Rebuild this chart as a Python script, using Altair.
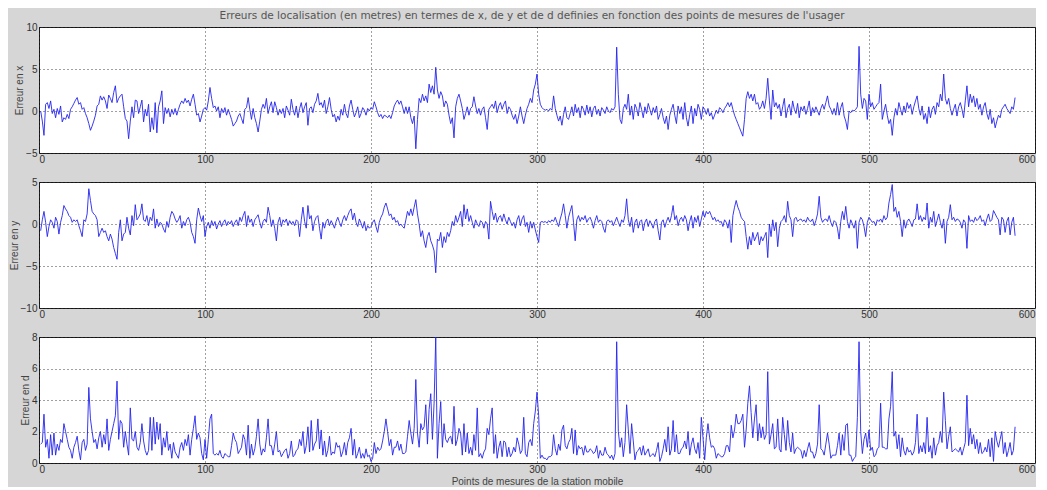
import altair as alt
import pandas as pd

TITLE = "Erreurs de localisation (en metres) en termes de x, de y et de d definies en fonction des points de mesures de l'usager"
X_TITLE = "Points de mesures de la station mobile"
Y_TITLES = ["Erreur en x", "Erreur en y", "Erreur en d"]
X_TICKS = [0, 100, 200, 300, 400, 500, 600]

EX = [
    0, -1.2, -2.9, 0.8, 1.0, 0.3, 1.2, -0.3, 0.2, -0.8,
    0.3, -0.4, 0.6, -1.3, -0.8, -1.0, -0.4, -0.9, 0.2, 0.5,
    0.9, 1.3, 1.6, 0.8, 1.0, 0.2, 0.4, -0.3, -0.8, -1.5,
    -2.3, -1.8, -1.2, -0.5, 0.6, 0.8, 1.8, 1.3, 1.7, 1.2,
    0.3, 1.9, 1.5, 1.0, 2.2, 3.0, 1.0, 1.5, 1.8, 2.0,
    0.5, -0.9, -1.2, -3.3, -1.2, 0.5, -0.8, 1.3, 1.2, -0.3,
    0.5, 1.3, -1.3, 0.2, -0.6, 0.8, -2.5, -0.8, -2.2, 1.0,
    -2.6, 0.5, 1.2, 2.4, -1.5, 0.4, -0.3, 0.3, -0.7, 0.2,
    -0.4, 0.3, -0.5, 0.2, 0.8, 1.2, 0.9, 1.5, 1.0, 1.3,
    0.6, 1.4, 2.0, 0.8, -0.5, -0.3, -1.3, -0.6, 0.2, 0.4,
    0.1, 1.2, 2.8, 1.5, 0.4, 0.6, 0.0, 0.5, -0.8, 0.3,
    -0.2, 0.4, -0.5, 0.2, -0.4, -1.0, -1.8, -1.5, -1.2, -0.6,
    -0.3, -0.9, -1.5, 0.2, 0.4, 1.6, 0.2, -1.0, 0.3, -0.8,
    -1.5, -2.5, -1.2, 0.2, 0.8, 0.3, 1.5, -0.3, 0.5, 1.1,
    -0.2, 1.1, 0.4, -0.5, 0.2, -0.3, 0.3, -0.8, 0.6, 0.1,
    -0.5, 1.4, 0.2, -0.5, 0.6, -0.8, 0.3, 1.0, -0.2, 0.5,
    1.0, -1.7, 0.3, 0.5, -0.2, 0.8, 1.2, 2.1, 0.7, 1.0,
    0.4, 1.3, -0.3, 0.5, 1.6, 0.2, -0.7, -0.4, -1.3, -0.6,
    -1.1, 0.2, -0.5, 0.8, -0.3, -0.8, 0.6, 1.3, 0.2, -0.7,
    -0.2, 0.5, -0.8, -0.3, 0.4, 0.1, -0.5, 0.3, 0.0, 0.4,
    0.2, 1.1, 0.5, -0.2, -0.7, -0.4, -0.9, -0.5, -0.6, -0.8,
    -0.5, -0.9, -0.2, 0.6, 1.0, 1.3, 0.8, 1.2, 0.5, -0.3,
    0.5, -0.3, 0.5, -0.8, -1.5, -0.6, -4.5, -1.0, 1.5, 1.0,
    2.0, 1.2, 1.8, 1.0, 3.2, 2.2, 3.0, 2.0, 5.2, 2.5,
    1.5, 2.3, 1.8, 0.5, 1.2, 0.8, -0.5, -1.5, -0.8, -3.2,
    0.5, 1.5, 2.0, 1.2, 0.3, -1.0, -0.3, 0.5, -0.5, 0.3,
    0.5, 1.7, 0.6, -0.3, 0.3, -0.5, 0.2, 0.5, -0.8, -2.2,
    0.2, 0.5, 0.8, 0.3, 1.2, -0.2, 0.6, 1.0, 0.2, 0.8,
    1.2, -0.3, 0.5, 0.2, -0.5, -1.0, -0.4, -1.5, -0.6, 0.5,
    -0.6, -1.5, -0.5, 0.3, 0.8, 1.5, 1.0, 2.5, 3.2, 4.4,
    2.0, 0.8, 0.4, 0.2, 0.1, 0.2, 0.0, 0.3, 0.1, 1.8,
    0.3, -0.5, -1.2, -0.6, -1.7, -0.4, 0.5, -0.8, -1.0, -0.3,
    0.5, -0.6, 0.8, -0.2, 0.4, -0.8, 0.6, 0.2, -0.5, 0.7,
    -0.3, 0.5, -0.7, 0.3, 0.6, -0.4, 0.2, -0.6, 0.4, 0.1,
    -0.3, 0.5, 0.0, -0.2, 0.3, 0.1, 0.5, 7.6, 2.0, -1.0,
    -1.5, 0.3, 0.8, 0.2, 2.0, -0.5, 0.6, -1.0, 0.8, 0.3,
    -0.6, 1.0, 0.2, -0.8, 0.5, -0.3, 0.9, 0.2, -0.5, 0.4,
    -0.2, 0.6, -1.0, -0.4, 0.3, -0.8, -1.5, -0.6, -2.2, -0.5,
    0.2, 0.8, -0.5, -1.5, 0.6, -0.3, 0.5, -1.0, 1.0, -0.8,
    -1.8, -0.4, 0.6, -1.5, 0.3, -0.6, 0.8, 0.2, -1.0, 0.5,
    0.2, -0.4, 0.3, -0.6, -0.2, -1.0, -0.5, 0.1, -0.3, 0.4,
    0.2, -0.2, 0.3, 0.6, 1.0, 0.5, 1.0, 0.2, -0.5, -1.0,
    -1.5, -2.0, -2.5, -3.0, -1.0, 1.5, 2.3, 1.5, 2.0, 1.2,
    2.0, 0.8, 1.0, 0.2, 0.5, 1.2, 0.3, 1.5, 3.9, 1.2,
    -1.0, 2.5, 0.5, 1.0, 0.3, 0.8, -0.6, 0.5, 1.5, -0.8,
    0.3, 0.8, -0.5, 1.2, 0.2, -0.3, 0.9, -0.8, 0.5, 0.0,
    0.6, -0.4, 0.3, 1.2, -0.6, 0.4, -0.2, 0.5, 0.0, -0.5,
    0.3, 0.8, 0.2, 1.0, 1.8, 0.6, 0.2, -0.4, 0.3, -0.5,
    1.0, -0.5, 0.4, 1.0, -0.6, -1.2, -2.2, 0.0, -0.2, 0.1,
    0.0, 0.2, 0.5, 7.7, 2.0, 0.3, 1.5, 1.2, -1.0, 2.0,
    0.5, 1.0, 0.2, 0.5, 0.8, 1.0, 3.2, -1.0, 0.0, 0.8,
    -0.5, -1.5, -1.0, -2.9, -0.8, 0.3, -0.5, 1.0, 0.2, -0.5,
    0.6, -0.2, 1.0, 0.3, 0.8, -0.4, 0.5, 1.2, 1.8, 0.3,
    -0.5, 0.6, -1.0, -0.3, -1.5, 0.5, -0.8, 0.2, 0.6, -0.4,
    1.0, 0.5, 2.0, 1.2, 4.4, 1.5, 0.8, 1.5, 0.3, -0.5,
    0.2, 0.8, -0.6, 0.5, 1.0, 0.2, -0.8, 1.2, 3.0, 0.5,
    2.0, 1.0, 1.8, 0.5, 1.5, 0.2, 0.8, -0.5, 0.5, 1.0,
    -0.3, -1.0, 0.2, -1.5, -0.8, -2.0, -1.2, -0.5, -0.8, 0.2,
    0.5, 0.8, 0.3, 0.0, -0.3, 0.5, 0.2, 1.6,
]

EY = [
    -0.8, 0.5, 1.5, 0.2, -1.5, -0.3, 0.5, 0.2, -0.5, 0.8,
    0.3, -1.2, 0.2, 1.0, 2.2, 1.8, 1.5, 1.0, 0.8, 0.2,
    0.5, 0.3, 0.5, -0.2, -0.8, -1.5, 0.5, 0.3, 1.2, 4.2,
    2.8, 1.5, 1.2, 1.0, 0.5, -1.5, -1.0, -0.5, -1.0, -0.8,
    -1.5, -2.0, -1.2, -1.8, -2.8, -3.5, -4.2, -1.0, 0.5, -2.0,
    -1.2, -1.0, 0.8, -0.5, -1.3, 1.0, -0.2, 2.3, 0.5, 0.8,
    1.2, 2.4, 0.5, 0.3, 1.0, -0.2, 0.8, 0.4, 1.8, -0.5,
    0.6, -0.3, 0.2, 0.0, -0.6, -1.0, 0.3, -0.4, 0.8, 1.5,
    1.2, 0.6, 0.2, 0.5, 1.0, -0.5, 0.3, -0.2, 0.5, 0.8,
    0.2, -1.0, -1.5, -2.3, 0.5, 1.9, 1.0, 0.3, 1.0, -1.5,
    -0.3, 0.2, -0.5, 0.4, -0.2, 0.3, -0.6, 0.0, 0.4, -0.3,
    0.2, 0.5, -0.2, 0.3, 0.0, 0.4, -0.3, 0.2, 0.5, -0.2,
    0.8, 0.3, 1.0, 1.5, -0.3, 1.0, 0.2, 0.6, -0.3, 0.5,
    0.8, 1.1, 0.2, -0.5, 0.3, 0.6, 0.2, 2.0, 1.0, -0.3,
    0.5, -0.5, -2.0, 0.2, 0.8, -0.3, 0.5, 0.2, 0.6, -0.2,
    0.4, 0.0, 0.3, -0.2, 0.5, 0.3, -1.5, 0.5, 2.0, 0.3,
    -0.5, 2.2, 0.6, 1.0, -0.8, 0.3, 0.8, 1.0, -0.5, -1.8,
    0.2, -0.5, 0.3, 0.6, -0.2, 0.4, 0.0, -0.5, 0.3, 0.8,
    0.2, -0.3, 0.5, 1.0, 0.4, 1.0, 1.5, 1.8, 0.5, 1.3,
    0.2, -0.3, 0.6, 0.1, -0.5, 0.3, -0.8, -0.2, -0.5, -0.3,
    0.2, 0.5, -0.3, -1.0, 0.2, 0.8, 1.2, 2.0, 2.5, 1.8,
    1.0, 1.2, 0.5, 0.8, 0.2, 0.4, -0.2, 0.0, -0.3, -0.5,
    0.5, 1.5, 1.0, 1.8, 1.0, 2.0, 2.9, 1.2, 0.0, -1.5,
    -0.8, -2.0, -2.8, -1.5, -1.0, -2.0, -2.5, -3.2, -5.8, -1.8,
    -2.0, -1.0, -2.8, -1.5, -2.2, -1.0, -1.5, -0.8, 0.3, -0.2,
    1.0, 0.2, 0.8, 1.5, -0.3, 2.3, 0.6, 1.8, 0.3, 1.0,
    0.2, -0.5, 0.5, 0.0, -0.3, 0.4, 0.2, -0.5, 0.3, 0.0,
    -1.8, 2.7, 1.5, 0.5, 1.3, 0.2, 0.8, 1.0, 0.3, 1.2,
    0.5, 0.0, 0.8, 0.3, -0.2, 0.2, -0.5, 0.5, 1.0, -0.2,
    0.6, 1.0, -0.3, 0.2, -1.0, 0.3, -0.5, 0.2, -0.7, -1.5,
    -2.2, 0.2, 0.3, 0.2, 0.3, 0.1, 0.4, 0.2, 0.5, 0.3,
    0.8, 0.2, -0.3, 0.6, 1.3, 2.4, 1.0, -0.5, 0.8, 1.5,
    2.2, 0.2, -2.0, 0.5, 1.0, 0.3, 0.8, 0.5, 1.0, 0.2,
    0.6, 0.8, 0.3, -0.5, 0.4, 1.0, 0.2, 0.5, 0.3, -0.5,
    -1.0, 0.3, 0.5, 0.2, 0.4, -0.2, 0.3, 0.8, 0.2, -0.3,
    0.5, 0.2, 1.0, 3.0, 0.5, -0.3, 0.8, -1.0, 0.2, 0.6,
    -0.5, 0.3, 0.5, -0.8, 0.2, 0.6, -0.3, 0.4, 0.0, -0.5,
    0.3, 0.6, -0.8, -1.9, 0.2, 0.5, -0.4, 0.3, 0.8, 0.2,
    1.0, 2.2, 0.5, 1.0, -0.2, 0.5, 0.8, 0.3, 1.0, 0.5,
    -0.8, 0.3, 1.0, -0.5, 0.8, 0.2, 1.0, -0.3, 0.6, 1.5,
    0.8, 1.5, 1.2, 1.5, 1.0, 0.5, 0.8, 0.3, 0.5, 0.2,
    0.3, -0.3, 0.5, 0.2, -0.5, 0.5, -2.2, 1.0, 2.0, 2.8,
    2.0, 1.5, 0.8, 0.5, 0.3, -1.5, -3.0, -1.5, -2.5, -1.0,
    -2.0, -1.5, -1.0, -2.5, -1.5, -2.0, -1.5, -1.0, -4.0, 0.0,
    -1.5, 0.5, -0.8, 0.2, -2.7, -0.5, 0.3, 0.5, 1.0, 0.2,
    2.7, 1.0, 0.5, -1.5, 0.6, 0.8, 0.3, 0.5, 0.6, 0.3,
    0.5, 0.2, 0.8, 0.4, 0.3, 0.6, -0.2, 0.4, 1.2, 3.3,
    0.8, 0.2, 0.5, 0.6, 0.3, 1.0, 0.2, -0.3, 0.4, 0.2,
    -0.5, -1.8, 0.3, 1.5, 0.5, 2.1, 0.3, -0.5, 0.5, 0.0,
    -0.5, 0.4, -2.9, 0.2, 0.8, 0.5, -0.3, -1.5, 0.2, 0.8,
    0.5, 0.2, 0.3, -0.2, 0.5, 0.3, 0.6, 0.2, 1.0, 0.5,
    0.8, 2.5, 3.5, 4.7, 1.5, 2.0, 0.8, 1.5, 0.3, -1.5,
    0.5, -0.5, 0.3, 0.6, 0.2, -0.3, 0.5, 0.6, 2.4, 0.5,
    1.0, 0.3, 0.8, 0.5, 2.5, -0.5, 0.8, 0.2, 1.5, -0.3,
    0.4, 1.2, 0.2, -0.5, 0.6, -2.3, 0.3, 0.8, 2.3, 0.5,
    0.8, 0.3, 0.6, 0.5, 0.2, -0.5, 0.5, 0.2, -2.9, 1.0,
    0.3, 0.5, 0.2, 0.8, 0.4, 0.6, 1.0, 0.3, 0.5, -0.2,
    0.6, 1.2, 0.3, 0.5, 1.6, 1.2, 0.8, 0.5, -1.3, 0.8,
    0.5, -1.0, 0.3, 0.8, -1.3, 0.2, 0.8, -1.4,
]

ED = [
    1.2, 1.3, 3.1, 1.0, 1.5, 0.3, 1.8, 0.5, 1.9, 0.5,
    1.2, 0.8, 1.5, 1.3, 2.5, 2.0, 1.5, 1.0, 0.8, 0.3,
    1.0, 1.3, 1.7, 0.8, 0.2, 1.3, 1.5, 0.8, 1.2, 4.8,
    2.8, 2.0, 1.3, 1.5, 0.9, 1.6, 2.0, 1.0, 1.8, 1.2,
    2.8, 0.8, 1.5, 2.0, 2.5, 3.0, 5.2, 1.5, 2.7, 2.5,
    1.0, 2.0, 1.2, 0.5, 3.5, 1.5, 1.4, 2.0, 1.0, 0.8,
    1.3, 2.5, 1.4, 0.8, 0.5, 0.8, 2.9, 0.8, 2.9, 1.2,
    2.6, 1.5, 2.5, 0.5, 1.6, 1.0, 2.0, 0.8, 1.2, 0.3,
    1.3, 0.7, 0.5, 0.3, 1.0, 1.3, 0.8, 1.5, 1.1, 1.8,
    0.5, 1.5, 2.2, 3.0, 1.5, 1.9, 1.6, 0.6, 0.2, 1.5,
    0.3, 1.5, 2.8, 3.1, 0.6, 0.5, 0.6, 0.5, 0.8, 0.4,
    0.3, 0.6, 0.5, 0.4, 0.4, 1.1, 1.9, 1.5, 1.3, 0.6,
    0.8, 1.0, 1.8, 1.5, 0.5, 2.4, 0.3, 1.2, 0.5, 0.9,
    1.7, 2.8, 1.2, 0.5, 0.9, 0.7, 1.6, 2.8, 1.1, 1.1,
    0.5, 1.2, 2.0, 0.7, 0.8, 0.4, 0.6, 0.8, 0.9, 0.3,
    0.6, 1.4, 0.4, 0.5, 0.8, 0.9, 1.5, 1.1, 2.0, 0.6,
    1.1, 2.3, 0.7, 2.7, 0.8, 1.2, 1.4, 2.8, 0.9, 2.1,
    0.5, 1.4, 0.4, 0.8, 1.7, 0.5, 0.7, 0.6, 1.3, 1.0,
    1.1, 0.4, 0.7, 1.3, 0.5, 1.3, 1.6, 2.2, 0.5, 1.5,
    0.3, 0.6, 1.0, 0.3, 0.6, 0.3, 0.9, 0.4, 0.5, 0.1,
    0.3, 1.3, 0.6, 1.0, 0.8, 0.9, 1.4, 2.0, 2.8, 2.0,
    1.1, 1.5, 0.5, 1.0, 1.0, 1.4, 0.8, 1.2, 0.6, 0.6,
    0.7, 1.7, 2.7, 1.9, 1.2, 2.2, 5.3, 1.9, 1.0, 2.5,
    2.1, 2.3, 3.7, 1.2, 3.4, 4.4, 1.5, 3.8, 8.0, 0.3,
    2.5, 3.9, 1.0, 2.5, 1.5, 1.3, 1.6, 1.7, 1.2, 3.6,
    1.1, 1.5, 2.2, 1.9, 0.5, 2.5, 0.7, 1.9, 0.6, 1.0,
    0.5, 1.8, 0.8, 3.5, 0.4, 0.6, 0.3, 0.7, 0.9, 2.2,
    1.8, 2.8, 3.5, 0.6, 1.8, 0.3, 1.0, 1.4, 0.4, 1.4,
    1.3, 0.4, 1.0, 0.4, 0.6, 1.0, 0.7, 1.6, 1.2, 0.6,
    0.8, 2.9, 0.6, 0.4, 1.3, 1.5, 1.1, 2.5, 3.3, 4.5,
    3.0, 0.3, 0.5, 0.3, 0.3, 0.2, 0.4, 0.4, 0.5, 1.8,
    0.9, 0.5, 1.2, 0.8, 2.1, 2.4, 1.1, 0.9, 1.3, 1.5,
    2.2, 0.6, 2.1, 0.5, 1.1, 0.9, 1.0, 0.5, 1.1, 0.7,
    0.7, 0.9, 0.8, 0.6, 0.7, 1.1, 0.3, 0.8, 0.5, 0.5,
    1.0, 0.6, 0.5, 0.3, 0.5, 0.2, 0.6, 7.7, 2.0, 1.0,
    1.6, 0.4, 1.3, 3.7, 2.1, 0.6, 2.5, 1.4, 0.2, 0.7,
    0.8, 1.0, 0.5, 1.1, 0.5, 0.7, 0.9, 0.4, 0.5, 0.6,
    0.4, 0.8, 1.3, 0.1, 0.4, 0.9, 1.5, 0.7, 2.3, 0.5,
    0.9, 2.7, 0.7, 1.8, 0.6, 0.6, 0.9, 1.0, 1.4, 0.9,
    2.0, 0.5, 1.2, 1.6, 0.9, 0.6, 1.3, 0.3, 2.9, 1.6,
    0.2, 1.6, 2.5, 1.6, 1.0, 1.1, 0.9, 0.3, 0.6, 0.5,
    0.4, 0.4, 0.6, 1.1, 1.1, 0.7, 2.4, 1.6, 2.1, 3.1,
    2.5, 2.5, 2.7, 3.1, 1.0, 2.1, 3.8, 4.9, 3.2, 1.6,
    2.8, 3.7, 1.4, 2.5, 1.6, 2.3, 1.5, 1.8, 5.8, 1.2,
    1.8, 2.5, 0.9, 1.0, 2.8, 0.9, 0.7, 2.9, 1.8, 0.8,
    2.7, 1.3, 0.7, 1.9, 0.6, 0.9, 1.0, 0.9, 0.8, 0.3,
    0.8, 0.4, 0.9, 1.3, 0.7, 0.7, 0.3, 0.6, 1.2, 3.7,
    0.9, 0.8, 0.5, 1.2, 1.9, 1.2, 0.3, 0.5, 0.5, 0.5,
    1.1, 1.9, 0.5, 1.8, 0.8, 2.4, 2.5, 0.5, 0.5, 0.1,
    0.3, 0.4, 2.9, 7.7, 2.0, 0.6, 1.5, 1.9, 1.0, 2.1,
    0.8, 1.0, 0.4, 0.5, 0.9, 1.0, 3.8, 1.0, 1.0, 0.9,
    0.9, 2.8, 3.6, 5.8, 1.7, 2.0, 0.9, 1.8, 0.4, 1.6,
    0.8, 0.5, 1.0, 0.7, 0.8, 0.5, 0.7, 1.3, 3.1, 0.6,
    1.1, 0.7, 1.3, 0.6, 2.9, 0.7, 1.1, 0.3, 1.6, 0.5,
    1.1, 1.3, 2.0, 1.3, 4.5, 2.7, 0.9, 1.7, 2.3, 0.7,
    0.8, 0.9, 0.8, 0.7, 1.0, 0.5, 0.9, 1.3, 4.3, 1.1,
    2.2, 1.2, 1.8, 0.9, 1.5, 0.6, 1.3, 0.6, 0.7, 1.0,
    0.7, 1.5, 0.4, 1.6, 0.1, 2.0, 1.4, 1.0, 1.5, 2.0,
    0.6, 1.3, 0.4, 0.8, 1.3, 0.5, 0.8, 2.3,
]

Y_DOMAINS = [[-5, 10], [-10, 5], [0, 8]]
Y_TICKS = [[-5, 0, 5, 10], [-10, -5, 0, 5], [0, 2, 4, 6, 8]]

FONT = "Liberation Sans"


def panel(vals, idx, with_xtitle):
    df = pd.DataFrame({"x": list(range(1, len(vals) + 1)), "v": vals})
    xkw = dict(values=X_TICKS, format="d", labelPadding=1)
    if with_xtitle:
        xkw["title"] = X_TITLE
        xkw["titlePadding"] = 2
    else:
        xkw["title"] = None
    return (
        alt.Chart(df)
        .mark_line(color="#2424ee", strokeWidth=0.9, clip=True)
        .encode(
            x=alt.X("x:Q", scale=alt.Scale(domain=[0, 600], nice=False, zero=False),
                    axis=alt.Axis(**xkw)),
            y=alt.Y("v:Q", scale=alt.Scale(domain=Y_DOMAINS[idx], nice=False, zero=False),
                    axis=alt.Axis(values=Y_TICKS[idx], title=Y_TITLES[idx], format="d")),
        )
        .properties(width=996, height=126)
    )


chart = (
    alt.vconcat(panel(EX, 0, False), panel(EY, 1, False), panel(ED, 2, True),
                spacing=29, bounds="flush")
    .properties(
        title=alt.TitleParams(text=TITLE, fontSize=10.5, font="DejaVu Sans", fontWeight="normal",
                              color="#555555", anchor="middle", offset=0, dx=10),
        background="#d6d6d6",
        padding={"left": 0, "top": 3, "right": 0, "bottom": 0},
    )
    .configure_view(fill="white", stroke="#222222", strokeWidth=1)
    .configure_axis(
        grid=True, gridColor="#000000", gridDash=[1, 3], gridOpacity=0.75, gridWidth=1,
        domain=False, ticks=False,
        labelFont=FONT, labelFontSize=10, labelColor="#333333", labelPadding=2,
        titleFont=FONT, titleFontSize=10, titleFontWeight="normal", titleColor="#444444",
        titlePadding=1,
    )
)

chart.save("out.html", embed_options={"renderer": "svg", "actions": False})
